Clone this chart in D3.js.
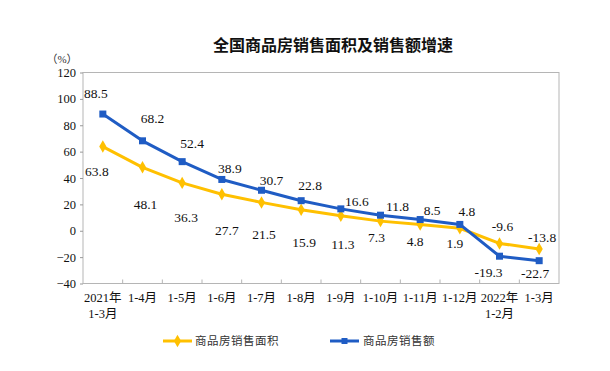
<!DOCTYPE html>
<html><head><meta charset="utf-8">
<script src="https://cdn.jsdelivr.net/npm/d3@7"></script>
<style>
html,body{margin:0;padding:0;background:#fff;}
svg{display:block;}
.serif{font-family:"Liberation Serif","Times New Roman","DejaVu Serif",serif;}
.cjk{font-family:"Liberation Serif","Times New Roman","Noto Sans CJK SC",serif;}
</style></head>
<body>
<svg id="chart" width="610" height="371"></svg>
<script>
const categories = ["2021年\n1-3月","1-4月","1-5月","1-6月","1-7月","1-8月","1-9月","1-10月","1-11月","1-12月","2022年\n1-2月","1-3月"];
const areaGrowth = [63.8,48.1,36.3,27.7,21.5,15.9,11.3,7.3,4.8,1.9,-9.6,-13.8];
const salesGrowth = [88.5,68.2,52.4,38.9,30.7,22.8,16.6,11.8,8.5,4.8,-19.3,-22.7];
const yTicks = [-40,-20,0,20,40,60,80,100,120];
const seriesNames = ["商品房销售面积","商品房销售额"];
const titleText = "全国商品房销售面积及销售额增速";

// label offsets (layout)
const salesLabelOff = [[-7,-21],[10,-22],[10,-18],[8,-11],[10,-10],[9,-15],[16,-7],[17,-9],[12,-9],[7,-13],[-11,16],[-4,13]];
const areaLabelOff = [[-6,25],[3,37],[4,35],[5,36],[2.5,32],[3,33],[2,29],[-4,16],[-5,17],[-5,15],[3,-17],[3,-11]];

const YELLOW = "#FFC000", BLUE = "#1F5CC4";

const svg = d3.select("#chart");
const m = {l:83, r:559, t:72.5, b:283.5};
const x = d3.scaleBand().domain(categories.map((d,i)=>i)).range([m.l,m.r]);
const y = d3.scaleLinear().domain([-40,120]).range([m.b,m.t]);

// title
svg.append("text").attr("x",333).attr("y",51).attr("text-anchor","middle")
  .style("font-family","'Noto Sans CJK SC',sans-serif").style("font-size","16px").style("font-weight","bold")
  .style("fill","#111").text(titleText);

// frame
svg.append("rect").attr("x",m.l).attr("y",m.t).attr("width",m.r-m.l).attr("height",m.b-m.t)
  .attr("fill","none").attr("stroke","#b5b5b5").attr("stroke-width",1);

// y axis
const yAxis = d3.axisLeft(y).tickValues(yTicks).tickSize(3).tickPadding(4);
const gy = svg.append("g").attr("transform",`translate(${m.l},0)`).call(yAxis);
gy.attr("font-family",null).attr("font-size",null);
gy.select(".domain").remove();
gy.selectAll(".tick line").attr("stroke","#999");
gy.selectAll(".tick text").attr("class","serif").style("font-size","12.5px").style("fill","#111");

svg.append("text").attr("x",62).attr("y",63).attr("text-anchor","middle").attr("class","cjk")
  .style("font-size","11px").style("fill","#333").text("（%）");

// x ticks (inward at band boundaries)
const bounds = d3.range(1,categories.length).map(i=>x(i));
svg.selectAll(".xt").data(bounds).join("line")
  .attr("x1",d=>d).attr("x2",d=>d).attr("y1",m.b).attr("y2",m.b-4)
  .attr("stroke","#b5b5b5");

// x labels
const xl = svg.selectAll(".xl").data(categories).join("text")
  .attr("text-anchor","middle").attr("class","cjk")
  .style("font-size","12.5px").style("fill","#111");
xl.each(function(d,i){
  const lines = d.split("\n");
  const t = d3.select(this);
  lines.forEach((ln,j)=>{
    t.append("tspan").attr("x",x(i)+x.bandwidth()/2).attr("y",302+j*15.5).text(ln);
  });
});

const cx = i => x(i)+x.bandwidth()/2;
const line = d3.line().x((d,i)=>cx(i)).y(d=>y(d)).curve(d3.curveLinear);

// area series (yellow)
svg.append("path").datum(areaGrowth).attr("d",line).attr("fill","none")
  .attr("stroke",YELLOW).attr("stroke-width",3).attr("stroke-linejoin","round");
const diamond = d3.symbol().type(d3.symbolDiamond).size(45);
svg.selectAll(".ym").data(areaGrowth).join("path")
  .attr("d",diamond).attr("transform",(d,i)=>`translate(${cx(i)},${y(d)})`).attr("fill",YELLOW);

// sales series (blue)
svg.append("path").datum(salesGrowth).attr("d",line).attr("fill","none")
  .attr("stroke",BLUE).attr("stroke-width",3).attr("stroke-linejoin","round");
svg.selectAll(".bm").data(salesGrowth).join("rect")
  .attr("x",(d,i)=>cx(i)-3.5).attr("y",d=>y(d)-3.5).attr("width",7).attr("height",7).attr("fill",BLUE);

// labels
const lblStyle = s => s.attr("class","serif").style("font-size","13.5px").style("fill","#111")
  .attr("text-anchor","middle").attr("dominant-baseline","central");
svg.selectAll(".sl").data(salesGrowth).join("text")
  .attr("x",(d,i)=>cx(i)+salesLabelOff[i][0]).attr("y",(d,i)=>y(d)+salesLabelOff[i][1])
  .call(lblStyle).text(d=>d.toFixed(1));
svg.selectAll(".al").data(areaGrowth).join("text")
  .attr("x",(d,i)=>cx(i)+areaLabelOff[i][0]).attr("y",(d,i)=>y(d)+areaLabelOff[i][1])
  .call(lblStyle).text(d=>d.toFixed(1));

// legend
const lg = [{name:seriesNames[0],c:YELLOW,x1:163,x2:192,tx:195,shape:"d"},
            {name:seriesNames[1],c:BLUE,x1:330,x2:359,tx:363,shape:"s"}];
lg.forEach(o=>{
  svg.append("line").attr("x1",o.x1).attr("x2",o.x2).attr("y1",341).attr("y2",341)
    .attr("stroke",o.c).attr("stroke-width",3);
  const mx=(o.x1+o.x2)/2;
  if(o.shape==="d") svg.append("path").attr("d",diamond).attr("transform",`translate(${mx},341)`).attr("fill",o.c);
  else svg.append("rect").attr("x",mx-3).attr("y",338).attr("width",6).attr("height",6).attr("fill",o.c);
  svg.append("text").attr("x",o.tx).attr("y",341).attr("dominant-baseline","central").attr("class","cjk")
    .style("font-size","11.5px").style("letter-spacing","0.5px").style("fill","#333").text(o.name);
});
</script>
</body></html>
